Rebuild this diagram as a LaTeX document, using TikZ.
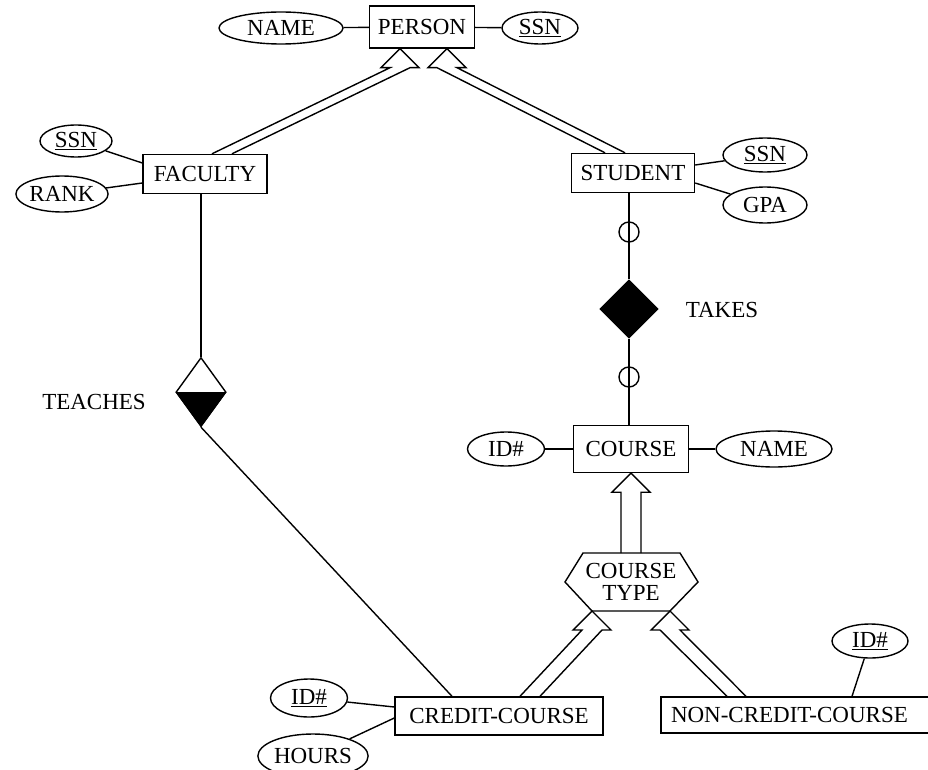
\documentclass[tikz,border=0pt]{standalone}
\usepackage{fontspec}
\setmainfont{Liberation Serif}
\usetikzlibrary{shapes.geometric,calc}

% open "is-a" arrow: #1 tip, #2 / #3 far ends of the two shaft lines
\newcommand\isaarrow[3]{%
  \draw[conn] (#2) -- ($(#1)+(-10,19)$) -- ($(#1)+(-19,19)$) -- (#1)
    -- ($(#1)+(19,19)$) -- ($(#1)+(10,19)$) -- (#3);}

\begin{document}
\begin{tikzpicture}[x=1pt,y=-1pt,
  every node/.style={font=\fontsize{23}{20}\selectfont, inner sep=0pt},
  conn/.style={line width=1.4pt, line join=miter},
  entity/.style={draw, line width=1.4pt, rectangle, minimum height=39pt},
  attr/.style={draw, line width=1.4pt, ellipse, minimum height=34pt},
  optional/.style={draw, line width=1.4pt, circle, minimum size=20pt}
]
\clip (0,0) rectangle (928,770);

% entities
\node[entity, minimum width=105pt, minimum height=42pt] (person) at (422,27) {PERSON};
\node[entity, minimum width=124pt] (faculty) at (205,174) {FACULTY};
\node[entity, minimum width=123pt] (student) at (633,173) {STUDENT};
\node[entity, minimum width=115pt, minimum height=47pt] (course) at (631,449) {COURSE};
\node[entity, minimum width=208pt, minimum height=38pt] (credit) at (499,716) {CREDIT-COURSE};
\node[entity, minimum width=274pt, minimum height=36pt, text width=254pt, align=left] (ncc) at (798,715) {NON-CREDIT-COURSE};

% attributes
\node[attr, minimum width=124pt, minimum height=32pt] (name1) at (281,28) {NAME};
\node[attr, minimum width=76pt, minimum height=32pt] (ssn1) at (540,28) {\underline{SSN}};
\node[attr, minimum width=72pt, minimum height=32pt] (ssn2) at (76,141) {\underline{SSN}};
\node[attr, minimum width=82pt, minimum height=36pt] (rank) at (62,194) {RANK};
\node[attr, minimum width=84pt] (ssn3) at (765,155) {\underline{SSN}};
\node[attr, minimum width=84pt, minimum height=36pt] (gpa) at (765,205) {GPA};
\node[attr, minimum width=77pt] (id1) at (506,449) {ID\#};
\node[attr, minimum width=116pt, minimum height=36pt] (name2) at (774,449) {NAME};
\node[attr, minimum width=77pt, minimum height=38pt] (id2) at (309,698) {\underline{ID\#}};
\node[attr, minimum width=104pt, minimum height=44pt] (hours) at (313,756) {HOURS};
\node[attr, minimum width=76pt] (id3) at (870,641) {\underline{ID\#}};

% relationships
\node[draw, line width=1.4pt, diamond, minimum width=50pt, minimum height=69pt] (teaches) at (201,392) {};
\fill (teaches.west) -- (teaches.east) -- (teaches.south) -- cycle;
\node[draw, fill=black, line width=1.4pt, diamond, minimum width=58pt, minimum height=58pt] (takes) at (629,309) {};
\node (teacheslbl) at (94,402) {TEACHES};
\node (takeslbl) at (722,310) {TAKES};

% category hexagon
\node[align=center, font=\fontsize{23}{22}\selectfont] (ctype) at (631,582) {COURSE\\TYPE};
\draw[conn] ($(ctype)+(-66,0)$) -- ($(ctype)+(-48,-29)$) -- ($(ctype)+(49,-29)$)
  -- ($(ctype)+(67,0)$) -- ($(ctype)+(39,29)$) -- ($(ctype)+(-39,29)$) -- cycle;

% attribute links
\draw[conn] (name1) -- (person);
\draw[conn] (person) -- (ssn1);
\draw[conn] (ssn2) -- ($(faculty.west)+(0,-11)$);
\draw[conn] (rank) -- ($(faculty.west)+(0,9)$);
\draw[conn] ($(student.east)+(0,-8)$) -- (ssn3);
\draw[conn] ($(student.east)+(0,10)$) -- (gpa);
\draw[conn] (id1) -- (course);
\draw[conn] (course) -- (name2);
\draw[conn] (id2) -- ($(credit.west)+(0,-9)$);
\draw[conn] (hours) -- ($(credit.west)+(0,2)$);
\draw[conn] (id3) -- ($(ncc.north)+(54,0)$);

% relationship links
\draw[conn] (teaches.north |- faculty.south) -- (teaches.north);
\draw[conn] (teaches.south) -- ($(credit.north)+(-47,0)$);
\draw[conn] (takes.north |- student.south) -- (takes.north);
\draw[conn] (takes.south) -- (takes.south |- course.north);
\node[optional] (o1) at (629,232) {};
\node[optional] (o2) at (629,377) {};

% generalisation arrows
\coordinate (tipf) at ($(person.south)+(-22,0)$);
\coordinate (tips) at ($(person.south)+(25,0)$);
\isaarrow{tipf}{$(faculty.north)+(7,0)$}{$(faculty.north)+(27,0)$}
\isaarrow{tips}{$(student.north)+(-28,0)$}{$(student.north)+(-8,0)$}
\coordinate (tipc) at (course.south);
\isaarrow{tipc}{$(ctype)+(-10,-29)$}{$(ctype)+(10,-29)$}
\coordinate (tipcc) at ($(ctype)+(-39,29)$);
\coordinate (tipnc) at ($(ctype)+(39,29)$);
\isaarrow{tipcc}{$(credit.north)+(21,0)$}{$(credit.north)+(41,0)$}
\isaarrow{tipnc}{$(ncc.north)+(-71,0)$}{$(ncc.north)+(-52,0)$}
\end{tikzpicture}
\end{document}
